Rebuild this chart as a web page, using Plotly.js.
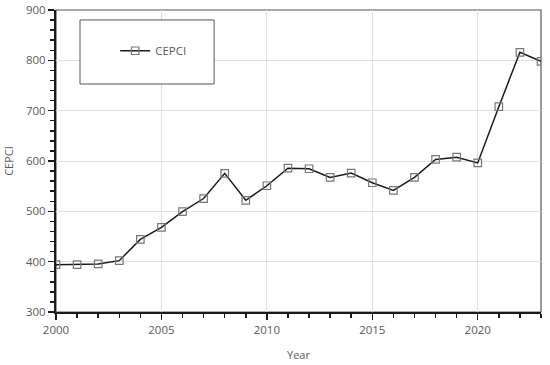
<!DOCTYPE html>
<html><head><meta charset="utf-8">
<script src="https://cdn.plot.ly/plotly-3.0.1.min.js"></script>
<style>html,body{margin:0;padding:0;background:#fff}#chart{width:550px;height:365px}</style>
</head><body><div id="chart"></div>
<script>
var years = [2000,2001,2002,2003,2004,2005,2006,2007,2008,2009,2010,2011,2012,2013,2014,2015,2016,2017,2018,2019,2020,2021,2022,2023];
var cepci = [394.1,394.3,395.6,402.0,444.2,468.2,499.6,525.4,575.4,521.9,550.8,585.7,584.6,567.3,576.1,556.8,541.7,567.5,603.1,607.5,596.2,708.0,816.0,797.9];
var seriesName = 'CEPCI';
var xTitle = 'Year', yTitle = 'CEPCI';

var font = {family: 'Open Sans, sans-serif', size: 11.5, color: '#595959'};
var trace = {
  x: years, y: cepci, name: seriesName, type: 'scatter', mode: 'lines+markers',
  line: {color: '#1a1a1a', width: 1.5},
  marker: {symbol: 'square-open', size: 7.5, color: '#777777', line: {width: 1.2, color: '#777777'}}
};
var layout = {
  width: 550, height: 365,
  margin: {l: 56, r: 9, t: 10, b: 53},
  paper_bgcolor: '#fff', plot_bgcolor: '#fff',
  font: font,
  showlegend: true,
  legend: {x: 0.122, y: 0.865, xanchor: 'left', yanchor: 'middle', bgcolor: 'rgba(0,0,0,0)', borderwidth: 0, font: {family: 'Open Sans, sans-serif', size: 11.5, color: '#595959'}},
  xaxis: {
    range: [2000, 2023], dtick: 5, tick0: 2000, showgrid: true, gridcolor: '#e0e0e0', gridwidth: 1,
    zeroline: false, showline: true, linecolor: '#1a1a1a', linewidth: 2,
    ticks: 'outside', ticklen: 6, tickcolor: '#1a1a1a', tickwidth: 1.5,
    minor: {dtick: 1, ticks: 'outside', ticklen: 4, tickcolor: '#1a1a1a', tickwidth: 1.5, showgrid: false},
    title: {text: xTitle, font: {family: 'Open Sans, sans-serif', size: 11, color: '#595959'}, standoff: 16},
    tickfont: font
  },
  yaxis: {
    range: [300, 900], dtick: 100, showgrid: true, gridcolor: '#e0e0e0', gridwidth: 1,
    zeroline: false, showline: true, linecolor: '#1a1a1a', linewidth: 2,
    ticks: 'outside', ticklen: 6, tickcolor: '#1a1a1a', tickwidth: 1.5,
    minor: {dtick: 20, ticks: 'outside', ticklen: 4, tickcolor: '#1a1a1a', tickwidth: 1.5, showgrid: false},
    title: {text: yTitle, font: {family: 'Open Sans, sans-serif', size: 11, color: '#595959'}, standoff: 10},
    tickfont: font
  },
  shapes: [
    {type: 'rect', xref: 'paper', yref: 'paper', x0: 0, x1: 1, y0: 0, y1: 1, line: {color: '#555555', width: 1.2}, layer: 'below'},
    {type: 'rect', xref: 'paper', yref: 'paper', x0: 0.0495, x1: 0.326, y0: 0.755, y1: 0.967, line: {color: '#555555', width: 1}, fillcolor: '#ffffff', layer: 'above'}
  ]
};
Plotly.newPlot('chart', [trace], layout, {staticPlot: true, displayModeBar: false});
</script></body></html>
